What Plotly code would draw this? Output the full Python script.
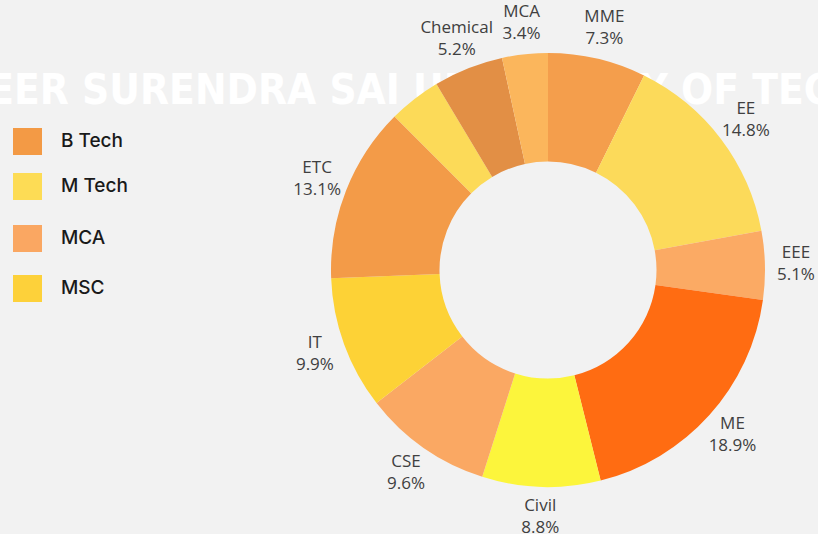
import plotly.graph_objects as go

# Data
branches = ["MME", "EE", "EEE", "ME", "Civil", "CSE", "IT", "ETC", "MSC", "Chemical", "MCA"]
shares = [7.3, 14.8, 5.1, 18.9, 8.8, 9.6, 9.9, 13.1, 3.9, 5.2, 3.4]
show_label = [True, True, True, True, True, True, True, True, False, True, True]
slice_colors = ["#F49E4C", "#FCDA5A", "#FBAA64", "#FF6C12", "#FCF53C", "#FAA863",
                "#FDD236", "#F39B48", "#FCDA58", "#E28F45", "#FBB65C"]

legend_names = ["B Tech", "M Tech", "MCA", "MSC"]
legend_colors = ["#F39A45", "#FDDC55", "#FAA762", "#FDD13A"]

texts = [f"{b}<br>{s:.1f}%" if sh else "" for b, s, sh in zip(branches, shares, show_label)]

# mid-angle of each slice (degrees clockwise from 12 o'clock), used to place labels
total = sum(shares)
mid_angles = []
acc = 0.0
for s in shares:
    mid_angles.append((acc + s / 2) / total * 360)
    acc += s

W, H = 818, 534
CX, CY, R = 548, 270, 217          # donut centre and outer radius (px)
RP = 264                            # radius of the label polar frame (px)
LABEL_R = 248 / R                   # label ring, in units of the outer radius

fig = go.Figure()
fig.add_trace(go.Pie(
    labels=branches,
    values=shares,
    textinfo="none",
    sort=False,
    direction="clockwise",
    rotation=0,
    hole=0.5,
    marker=dict(colors=slice_colors, line=dict(width=0)),
    showlegend=False,
    hoverinfo="label+percent",
    domain=dict(x=[(CX - R) / W, (CX + R) / W], y=[(H - CY - R) / H, (H - CY + R) / H]),
))

fig.add_trace(go.Scatterpolar(
    theta=mid_angles,
    r=[LABEL_R] * len(branches),
    text=texts,
    mode="text",
    textposition="middle center",
    textfont=dict(family="Open Sans", size=17, color="#404040"),
    cliponaxis=False,
    hoverinfo="skip",
    showlegend=False,
))

shapes = []
annotations = []
# faint watermark behind the chart
shapes.append(dict(type="rect", xref="paper", yref="paper", x0=0.1, x1=1.12,
                   y0=1 - 112 / H, y1=1 - 60 / H,
                   layer="below", line=dict(width=0), fillcolor="rgba(0,0,0,0)",
                   label=dict(text="VEER SURENDRA SAI UNIVERSITY OF TECHNOLOGY",
                              font=dict(family="DejaVu Sans Condensed", size=42, color="#FFFFFF",
                                        weight="bold"),
                              textposition="middle center")))

sq_top = [128, 173, 225, 275]
for name, col, top in zip(legend_names, legend_colors, sq_top):
    shapes.append(dict(type="rect", xref="paper", yref="paper",
                       x0=13 / W, x1=42 / W,
                       y0=1 - (top + 27) / H, y1=1 - top / H,
                       line=dict(width=0), fillcolor=col))
    annotations.append(dict(text=name, x=59 / W, y=1 - (top + 12) / H, xref="paper", yref="paper",
                            xanchor="left", yanchor="middle", showarrow=False,
                            font=dict(family="Inter", size=19, color="#1A1A1A", weight=500)))

fig.update_layout(
    width=W, height=H,
    margin=dict(l=0, r=0, t=0, b=0, pad=0, autoexpand=False),
    paper_bgcolor="#F2F2F2",
    plot_bgcolor="#F2F2F2",
    shapes=shapes,
    annotations=annotations,
    polar=dict(
        domain=dict(x=[(CX - RP) / W, (CX + RP) / W], y=[(H - CY - RP) / H, (H - CY + RP) / H]),
        bgcolor="rgba(0,0,0,0)",
        angularaxis=dict(visible=False, direction="clockwise", rotation=90, showgrid=False),
        radialaxis=dict(visible=False, range=[0, RP / R], showgrid=False),
    ),
)

fig.write_html("out.html", config={"displayModeBar": False},
               post_script="document.body.style.margin='0px';")
